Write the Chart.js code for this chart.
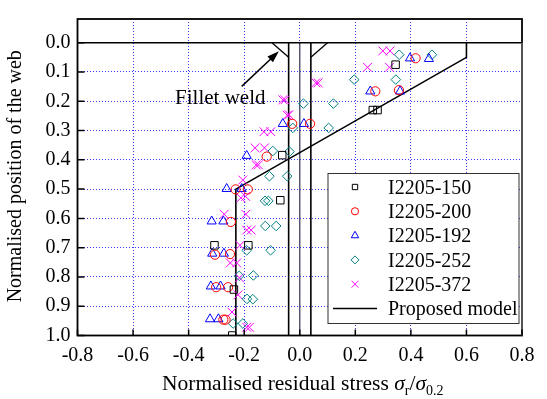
<!DOCTYPE html>
<html>
<head>
<meta charset="utf-8">
<script src="https://cdn.jsdelivr.net/npm/chart.js@4.4.0/dist/chart.umd.min.js"></script>
<style>
  html, body { margin: 0; padding: 0; background: #fff; }
</style>
</head>
<body>
<canvas id="stressChart" width="547" height="399"></canvas>
<script>
const SERIF = "'Liberation Serif', 'Times New Roman', serif";

// axis ticks
const xTicks = [-0.8, -0.6, -0.4, -0.2, 0, 0.2, 0.4, 0.6, 0.8];
const yTicks = [0, 0.1, 0.2, 0.3, 0.4, 0.5, 0.6, 0.7, 0.8, 0.9, 1.0];

// measured points: [stress ratio, position]
const i2205_150 = [
  [0.345, 0.075], [0.263, 0.23], [0.28, 0.23], [-0.063, 0.384], [-0.07, 0.538],
  [-0.307, 0.692], [-0.185, 0.692], [-0.237, 0.843], [-0.243, 1.0]
];
const i2205_200 = [
  [0.417, 0.053], [0.272, 0.166], [0.357, 0.162], [0.037, 0.277], [-0.027, 0.277],
  [-0.119, 0.389], [-0.231, 0.501], [-0.187, 0.501], [-0.248, 0.612], [-0.305, 0.724],
  [-0.251, 0.722], [-0.301, 0.835], [-0.258, 0.835], [-0.275, 0.946], [-0.267, 0.946]
];
const i2205_192 = [
  [0.397, 0.053], [0.465, 0.055], [0.254, 0.166], [0.361, 0.166], [0.015, 0.277],
  [-0.061, 0.277], [-0.191, 0.386], [-0.263, 0.499], [-0.209, 0.499], [-0.317, 0.61],
  [-0.275, 0.61], [-0.315, 0.72], [-0.273, 0.72], [-0.32, 0.832], [-0.285, 0.832],
  [-0.323, 0.944], [-0.293, 0.944]
];
const i2205_252 = [
  [0.358, 0.041], [0.476, 0.041], [0.196, 0.126], [0.346, 0.126], [0.013, 0.208],
  [0.121, 0.208], [0.104, 0.291], [-0.025, 0.291], [-0.097, 0.37], [-0.037, 0.372],
  [-0.109, 0.456], [-0.045, 0.456], [-0.125, 0.54], [-0.113, 0.54], [-0.124, 0.626],
  [-0.085, 0.626], [-0.191, 0.709], [-0.105, 0.709], [-0.218, 0.796], [-0.167, 0.795],
  [-0.19, 0.875], [-0.169, 0.876], [-0.24, 0.959], [-0.205, 0.959]
];
const i2205_372 = [
  [0.299, 0.028], [0.325, 0.028], [0.244, 0.084], [0.323, 0.084], [0.058, 0.137],
  [0.066, 0.137], [-0.061, 0.195], [-0.053, 0.195], [-0.045, 0.248], [-0.039, 0.246],
  [-0.129, 0.304], [-0.104, 0.304], [-0.161, 0.359], [-0.127, 0.359], [-0.157, 0.417],
  [-0.149, 0.417], [-0.205, 0.469], [-0.212, 0.53], [-0.195, 0.525], [-0.272, 0.586],
  [-0.194, 0.586], [-0.191, 0.64], [-0.175, 0.64], [-0.215, 0.692], [-0.25, 0.752],
  [-0.227, 0.752], [-0.217, 0.803], [-0.222, 0.861], [-0.244, 0.92], [-0.191, 0.972],
  [-0.181, 0.972]
];

// proposed model distribution
const modelLine = [[0.6, 0], [0.6, 0.05], [-0.23, 0.5], [-0.23, 1.0]];

// section sketch: flange face, web faces, web centre line and fillets
const flangeFace = [[-0.8, 0], [0.8, 0]];
const webLeft = [[-0.04, 0], [-0.04, 1.0]];
const webMid = [[0, 0], [0, 1.0]];
const webRight = [[0.04, 0], [0.04, 1.0]];
const filletLeft = [[-0.1, 0], [-0.04, 0.05]];
const filletRight = [[0.04, 0.05], [0.1, 0]];

const filletText = 'Fillet weld';
const filletTextAt = [-0.286, 0.189];
const arrowTail = [-0.209, 0.149];
const arrowTip = [-0.075, 0.029];

const seriesNames = ['I2205-150', 'I2205-200', 'I2205-192', 'I2205-252', 'I2205-372'];
const modelName = 'Proposed model';

const toXY = arr => arr.map(([x, y]) => ({ x, y }));

const markers = [
  { data: i2205_150, style: 'rect', color: '#000000', r: 5.3, lr: 3.8 },
  { data: i2205_200, style: 'circle', color: '#ff0000', r: 4.6, lr: 3.6 },
  { data: i2205_192, style: 'triangle', color: '#0000ff', r: 5.3, lr: 4.3 },
  { data: i2205_252, style: 'rectRot', color: '#008080', r: 4.8, lr: 4.0 },
  { data: i2205_372, style: 'crossRot', color: '#ff00ff', r: 6.2, lr: 4.8 }
];

const pointSets = markers.map((m, i) => ({
  label: seriesNames[i],
  data: toXY(m.data),
  pointStyle: m.style,
  pointRadius: m.r,
  borderColor: m.color,
  backgroundColor: 'rgba(0,0,0,0)',
  borderWidth: 1,
  showLine: false
}));

function lineSet(label, pts, color, width) {
  return {
    label,
    data: toXY(pts),
    showLine: true,
    pointRadius: 0,
    borderColor: color,
    borderWidth: width,
    fill: false,
    tension: 0
  };
}

const sketchSets = [
  lineSet('flange', flangeFace, '#000', 1.6),
  lineSet('webL', webLeft, '#000', 1.6),
  lineSet('webM', webMid, '#50506e', 1.4),
  lineSet('webR', webRight, '#000', 1.6),
  lineSet('filletL', filletLeft, '#000', 1.3),
  lineSet('filletR', filletRight, '#000', 1.3)
];

const overlay = {
  id: 'overlay',
  afterDraw(chart) {
    const { ctx, chartArea: { left, right, top, bottom }, scales: { x, y } } = chart;
    const px = v => x.getPixelForValue(v);
    const py = v => y.getPixelForValue(v);
    ctx.save();

    // arrow pointing at the fillet
    const x0 = px(arrowTail[0]), y0 = py(arrowTail[1]);
    const x1 = px(arrowTip[0]), y1 = py(arrowTip[1]);
    const a = Math.atan2(y1 - y0, x1 - x0);
    const c = Math.cos(a), s = Math.sin(a);
    ctx.strokeStyle = '#000';
    ctx.fillStyle = '#000';
    ctx.lineWidth = 1.5;
    ctx.beginPath();
    ctx.moveTo(x0, y0);
    ctx.lineTo(x1 - 8 * c, y1 - 8 * s);
    ctx.stroke();
    ctx.beginPath();
    ctx.moveTo(x1, y1);
    ctx.lineTo(x1 - 12 * c + 4 * s, y1 - 12 * s - 4 * c);
    ctx.lineTo(x1 - 12 * c - 4 * s, y1 - 12 * s + 4 * c);
    ctx.closePath();
    ctx.fill();

    ctx.font = `21px ${SERIF}`;
    ctx.textAlign = 'center';
    ctx.textBaseline = 'middle';
    ctx.fillText(filletText, px(filletTextAt[0]), py(filletTextAt[1]));

    // legend box
    const bw = 191, bh = 150;
    const bx = right - 3 - bw, by = bottom - 12 - bh;
    ctx.fillStyle = '#fff';
    ctx.fillRect(bx, by, bw, bh);
    ctx.strokeStyle = '#333';
    ctx.lineWidth = 1;
    ctx.strokeRect(bx, by, bw, bh);
    const rowH = 24.3;
    ctx.textAlign = 'left';
    ctx.font = `20px ${SERIF}`;
    markers.forEach((m, i) => {
      const ry = by + 13.5 + i * rowH;
      ctx.strokeStyle = m.color;
      ctx.fillStyle = 'rgba(0,0,0,0)';
      ctx.lineWidth = 1;
      Chart.helpers.drawPoint(ctx, { pointStyle: m.style, radius: m.lr, rotation: 0, borderWidth: 1 }, bx + 27, ry);
      ctx.fillStyle = '#000';
      ctx.fillText(seriesNames[i], bx + 60, ry + 1.5);
    });
    const ly = by + 13.5 + 5 * rowH;
    ctx.strokeStyle = '#000';
    ctx.lineWidth = 1.6;
    ctx.beginPath();
    ctx.moveTo(bx + 5, ly);
    ctx.lineTo(bx + 49, ly);
    ctx.stroke();
    ctx.fillText(modelName, bx + 60, ly + 1.5);

    // plot frame with inward ticks
    ctx.strokeStyle = '#000';
    ctx.lineWidth = 1.8;
    ctx.strokeRect(left, top, right - left, bottom - top);
    ctx.strokeStyle = '#5a5a5a';
    ctx.beginPath();
    ctx.moveTo(right, py(0));
    ctx.lineTo(right, bottom);
    ctx.stroke();
    ctx.strokeStyle = '#000';
    ctx.lineWidth = 1.5;
    ctx.beginPath();
    xTicks.forEach(v => { ctx.moveTo(px(v), bottom); ctx.lineTo(px(v), bottom - 6); });
    yTicks.forEach(v => { ctx.moveTo(left, py(v)); ctx.lineTo(left + 7, py(v)); });
    ctx.stroke();

    // axis titles
    ctx.fillStyle = '#000';
    ctx.textBaseline = 'alphabetic';
    ctx.textAlign = 'left';
    const parts = [
      { t: 'Normalised residual stress ', f: `21.5px ${SERIF}`, dy: 0 },
      { t: 'σ', f: `italic 21.5px ${SERIF}`, dy: 0 },
      { t: 'r', f: `14px ${SERIF}`, dy: 5 },
      { t: '/', f: `21.5px ${SERIF}`, dy: 0 },
      { t: 'σ', f: `italic 21.5px ${SERIF}`, dy: 0 },
      { t: '0.2', f: `14px ${SERIF}`, dy: 5 }
    ];
    let total = 0;
    parts.forEach(p => { ctx.font = p.f; p.w = ctx.measureText(p.t).width; total += p.w; });
    let cx = (left + right) / 2 + 3 - total / 2;
    const base = chart.height - 9;
    parts.forEach(p => { ctx.font = p.f; ctx.fillText(p.t, cx, base + p.dy); cx += p.w; });

    ctx.translate(16, (top + bottom) / 2 - 1);
    ctx.rotate(-Math.PI / 2);
    ctx.font = `20px ${SERIF}`;
    ctx.textAlign = 'center';
    ctx.textBaseline = 'middle';
    ctx.fillText('Normalised position of the web', 0, 0);
    ctx.restore();
  }
};

const gridBlue = 'rgba(20,20,255,0.85)';

new Chart(document.getElementById('stressChart'), {
  type: 'scatter',
  data: { datasets: [...pointSets, lineSet(modelName, modelLine, '#000', 1.6), ...sketchSets] },
  options: {
    responsive: false,
    animation: false,
    layout: { padding: { top: 6, right: 25, left: 0, bottom: 0 } },
    plugins: { legend: { display: false }, tooltip: { enabled: false } },
    scales: {
      x: {
        type: 'linear',
        min: -0.8,
        max: 0.8,
        afterBuildTicks: s => { s.ticks = xTicks.map(value => ({ value })); },
        afterFit: s => { s.height = 63.5; },
        grid: {
          drawTicks: false,
          color: c => (Math.abs(c.tick.value) > 0.7 ? 'rgba(0,0,0,0)' : gridBlue),
          lineWidth: 1
        },
        border: { display: false, dash: [1, 2] },
        ticks: {
          padding: 8,
          color: '#000',
          font: { family: SERIF, size: 20 },
          maxRotation: 0,
          callback: v => v.toFixed(1)
        }
      },
      y: {
        type: 'linear',
        reverse: true,
        min: -0.081,
        max: 1.0,
        afterBuildTicks: s => { s.ticks = yTicks.map(value => ({ value })); },
        afterFit: s => { s.width = 77.5; },
        grid: {
          drawTicks: false,
          color: c => (c.tick.value < 0.05 || c.tick.value > 0.95 ? 'rgba(0,0,0,0)' : gridBlue),
          lineWidth: 1
        },
        border: { display: false, dash: [1, 2] },
        ticks: {
          padding: 7,
          color: '#000',
          font: { family: SERIF, size: 20 },
          callback: v => v.toFixed(1)
        }
      }
    }
  },
  plugins: [overlay]
});
</script>
</body>
</html>
